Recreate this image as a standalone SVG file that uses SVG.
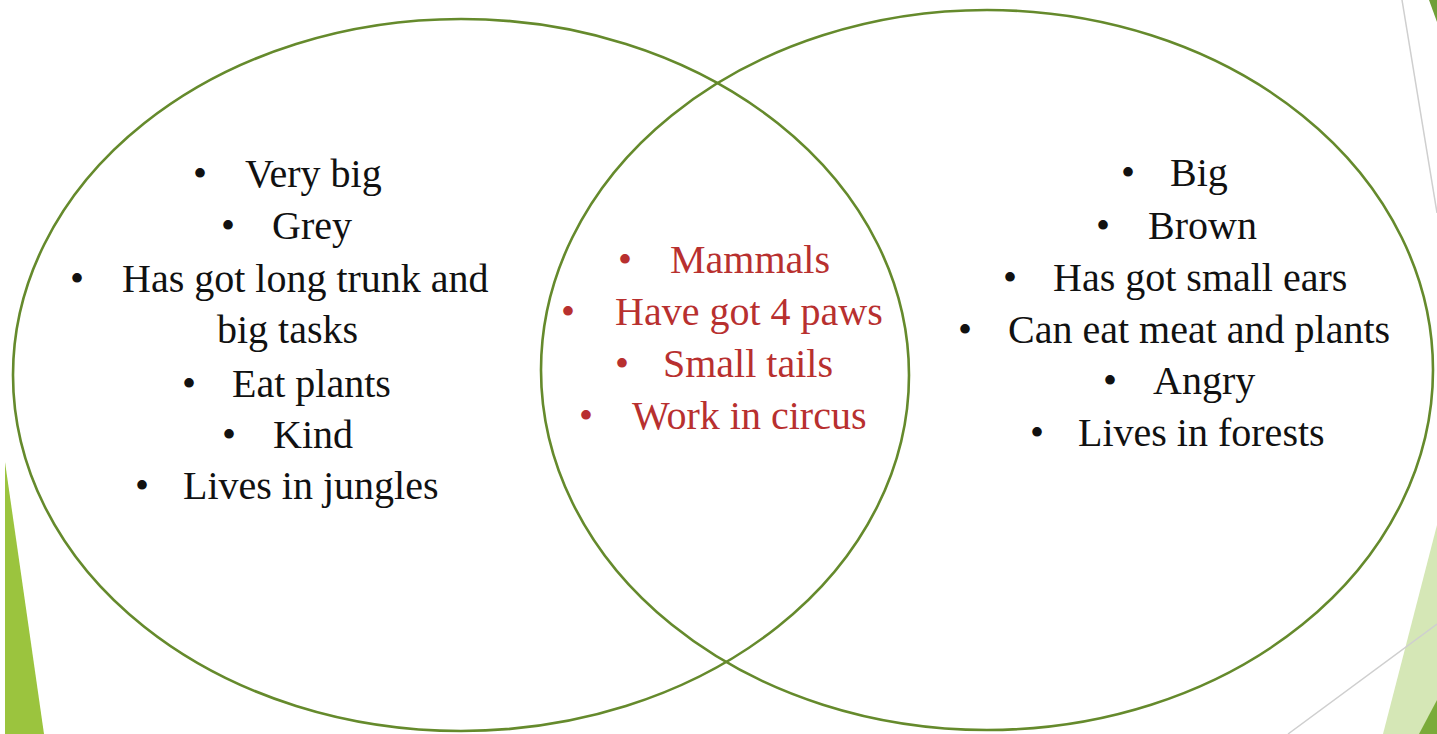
<svg xmlns="http://www.w3.org/2000/svg" width="1437" height="734" viewBox="0 0 1437 734">
  <style>
    .ring { fill: none; stroke: #658a2c; stroke-width: 2.6; }
    .t { font-family: 'Liberation Serif', Tinos, 'Times New Roman', Times, 'DejaVu Serif', serif; font-size: 40px; fill: #111111; }
    .c { text-anchor: middle; }
    .red { fill: #b8302f; }
    .deco-line { stroke: #cfcfcf; stroke-width: 1.5; fill: none; }
  </style>
  <rect width="1437" height="734" fill="#ffffff"/>
  <g id="decoration">
    <polygon points="5,462 5,734 44,734" fill="#9bc43e"/>
    <polygon points="1437,525 1437,734 1383,734" fill="#d5e7b6"/>
    <polygon points="1437,700 1437,734 1419,734" fill="#7aab3a"/>
    <polygon points="1429,0 1437,0 1437,22" fill="#6f9f38"/>
    <line class="deco-line" x1="1402" y1="0" x2="1437" y2="213"/>
    <line class="deco-line" x1="1288" y1="734" x2="1437" y2="624"/>
  </g>
  <g id="connectors"></g>
  <g id="left-set" font-family="Liberation Serif, serif">
    <ellipse class="ring" cx="461" cy="375" rx="448" ry="356"/>
    <text class="t c" x="200" y="187">•</text><text class="t" x="245" y="187">Very big</text>
    <text class="t c" x="228" y="239">•</text><text class="t" x="272" y="239">Grey</text>
    <text class="t c" x="77" y="292">•</text><text class="t" x="122" y="292">Has got long trunk and</text>
    <text class="t" x="217" y="343">big tasks</text>
    <text class="t c" x="189" y="397">•</text><text class="t" x="232" y="397">Eat plants</text>
    <text class="t c" x="229" y="448">•</text><text class="t" x="273" y="448">Kind</text>
    <text class="t c" x="142" y="499">•</text><text class="t" x="183" y="499">Lives in jungles</text>
  </g>
  <g id="right-set">
    <ellipse class="ring" cx="987" cy="370" rx="446" ry="360"/>
    <text class="t c" x="1128" y="186">•</text><text class="t" x="1170" y="186">Big</text>
    <text class="t c" x="1103" y="239">•</text><text class="t" x="1148" y="239">Brown</text>
    <text class="t c" x="1010" y="291">•</text><text class="t" x="1053" y="291">Has got small ears</text>
    <text class="t c" x="965" y="343">•</text><text class="t" x="1008" y="343">Can eat meat and plants</text>
    <text class="t c" x="1110" y="394">•</text><text class="t" x="1153" y="394">Angry</text>
    <text class="t c" x="1037" y="446">•</text><text class="t" x="1078" y="446">Lives in forests</text>
  </g>
  <g id="overlap">
    <text class="t c red" x="625" y="273">•</text><text class="t red" x="670" y="273">Mammals</text>
    <text class="t c red" x="568" y="325">•</text><text class="t red" x="615" y="325">Have got 4 paws</text>
    <text class="t c red" x="622" y="377">•</text><text class="t red" x="663" y="377">Small tails</text>
    <text class="t c red" x="586" y="429">•</text><text class="t red" x="632" y="429">Work in circus</text>
  </g>
</svg>
